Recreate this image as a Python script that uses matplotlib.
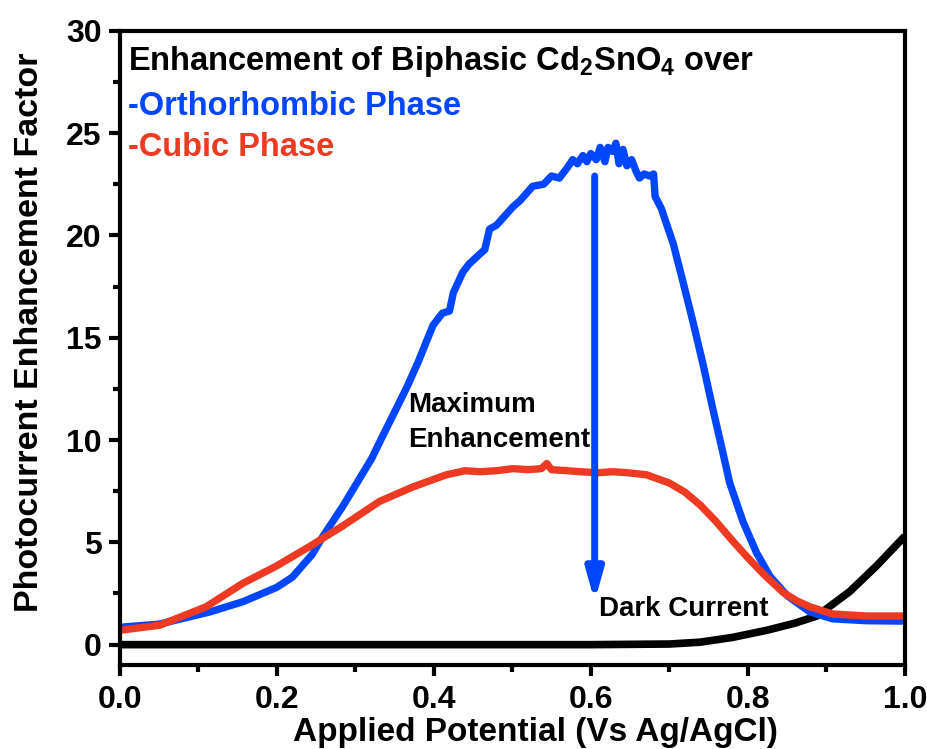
import matplotlib
matplotlib.use("Agg")
import matplotlib.pyplot as plt
from matplotlib.ticker import MultipleLocator

plt.rcParams['font.family'] = ['Liberation Sans', 'DejaVu Sans']
plt.rcParams['font.weight'] = 'bold'
plt.rcParams['mathtext.fontset'] = 'custom'
plt.rcParams['mathtext.bf'] = 'Liberation Sans:bold'
plt.rcParams['mathtext.rm'] = 'Liberation Sans:bold'

# Orthorhombic-phase enhancement (blue)
ortho_x = [0.0, 0.05, 0.115, 0.157, 0.2, 0.22, 0.245, 0.259, 0.284, 0.31, 0.321, 0.335,
           0.357, 0.366, 0.38, 0.399, 0.411, 0.42, 0.425, 0.437, 0.445, 0.459,
           0.465, 0.471, 0.48, 0.501, 0.51, 0.526, 0.54, 0.55, 0.56, 0.57,
           0.577, 0.583, 0.59, 0.595, 0.6, 0.607, 0.612, 0.618, 0.622, 0.628,
           0.632, 0.636, 0.641, 0.646, 0.652, 0.658, 0.662, 0.668, 0.675, 0.68,
           0.682, 0.69, 0.697, 0.705, 0.717, 0.73, 0.743, 0.755, 0.767, 0.777,
           0.794, 0.811, 0.828, 0.85, 0.879, 0.908, 0.951, 1.0]
ortho_y = [0.85, 1.0, 1.6, 2.1, 2.8, 3.3, 4.4, 5.3, 6.75, 8.4, 9.1, 10.2,
           11.9, 12.6, 13.8, 15.6, 16.2, 16.3, 17.2, 18.2, 18.6, 19.1,
           19.3, 20.3, 20.5, 21.4, 21.7, 22.4, 22.5, 22.9, 22.8, 23.3,
           23.7, 23.5, 23.9, 23.6, 24.0, 23.7, 24.3, 23.6, 24.3, 24.1,
           24.5, 23.5, 24.2, 23.4, 23.7, 23.1, 22.8, 23.0, 22.9, 23.0,
           21.9, 21.3, 20.5, 19.6, 17.8, 15.8, 13.7, 11.6, 9.6, 7.9,
           6.0, 4.5, 3.35, 2.4, 1.6, 1.26, 1.17, 1.15]

# Cubic-phase enhancement (red)
cubic_x = [0.0, 0.051, 0.11, 0.157, 0.2, 0.242, 0.284, 0.331, 0.373, 0.416,
           0.44, 0.459, 0.48, 0.501, 0.52, 0.537, 0.544, 0.55, 0.57, 0.586,
           0.61, 0.628, 0.647, 0.671, 0.7, 0.72, 0.74, 0.76, 0.78, 0.8, 0.82,
           0.845, 0.862, 0.879, 0.908, 0.951, 1.0]
cubic_y = [0.7, 0.95, 1.85, 3.0, 3.85, 4.8, 5.8, 7.0, 7.7, 8.3,
           8.5, 8.45, 8.5, 8.6, 8.55, 8.6, 8.85, 8.55, 8.5, 8.45,
           8.4, 8.45, 8.4, 8.3, 7.9, 7.45, 6.8, 6.0, 5.1, 4.25, 3.45,
           2.55, 2.15, 1.85, 1.5, 1.4, 1.4]

# Dark current (black)
dark_x = [0.0, 0.2, 0.4, 0.6, 0.7, 0.739, 0.78, 0.824, 0.86, 0.888, 0.93, 0.964, 1.0]
dark_y = [0.0, 0.0, 0.0, 0.0, 0.03, 0.12, 0.35, 0.7, 1.05, 1.4, 2.6, 3.85, 5.3]

blue = '#0046ff'
red = '#ee3a22'

fig = plt.figure(figsize=(9.28, 7.49), dpi=100)
ax = fig.add_axes([0.129, 0.112, 0.846, 0.847])

ax.plot(dark_x, dark_y, color='black', lw=5.5, solid_capstyle='butt')
ax.plot(ortho_x, ortho_y, color=blue, lw=5.3, solid_joinstyle='round')
ax.plot(cubic_x, cubic_y, color=red, lw=5.3, solid_joinstyle='round')

# arrow from maximum enhancement down to dark current
ax.annotate('', xy=(0.605, 2.1), xytext=(0.605, 22.9),
            arrowprops=dict(arrowstyle='-|>,head_length=1.8,head_width=0.5',
                            color=blue, lw=5, shrinkA=0, shrinkB=0))

ax.text(0.01, 28.06, r'Enhancement of Biphasic Cd$_{\mathbf{2}}$SnO$_{\mathbf{4}}$ over',
        fontsize=23.5, va='baseline', ha='left')
ax.text(0.01, 25.9, '-Orthorhombic Phase', color=blue, fontsize=23.5, va='baseline')
ax.text(0.01, 23.9, '-Cubic Phase', color=red, fontsize=23.5, va='baseline')
ax.text(0.367, 11.36, 'Maximum', fontsize=20, va='baseline')
ax.text(0.367, 9.66, 'Enhancement', fontsize=20, va='baseline')
ax.text(0.611, 1.41, 'Dark Current', fontsize=20, va='baseline')

ax.set_xlim(0, 1.0)
ax.set_ylim(-1, 30)
ax.xaxis.set_minor_locator(MultipleLocator(0.1))
ax.yaxis.set_minor_locator(MultipleLocator(2.5))
ax.set_xticks([0, 0.2, 0.4, 0.6, 0.8, 1.0])
ax.set_xticklabels(['0.0', '0.2', '0.4', '0.6', '0.8', '1.0'])
ax.set_yticks([0, 5, 10, 15, 20, 25, 30])

for s in ax.spines.values():
    s.set_linewidth(3)
ax.tick_params(which='major', direction='out', length=8, width=3, labelsize=23)
ax.tick_params(axis='x', which='major', pad=6)
ax.tick_params(axis='y', which='major', pad=5)
ax.tick_params(which='minor', direction='out', length=5, width=3)
for lab in ax.get_xticklabels() + ax.get_yticklabels():
    lab.set_fontweight('bold')

ax.set_xlabel('Applied Potential (Vs Ag/AgCl)', fontsize=24, fontweight='bold')
ax.set_ylabel('Photocurrent Enhancement Factor', fontsize=24.5, fontweight='bold')
ax.xaxis.set_label_coords(0.53, -0.082)
ax.yaxis.set_label_coords(-0.095, 0.524)

fig.savefig('out.png', dpi=100)
